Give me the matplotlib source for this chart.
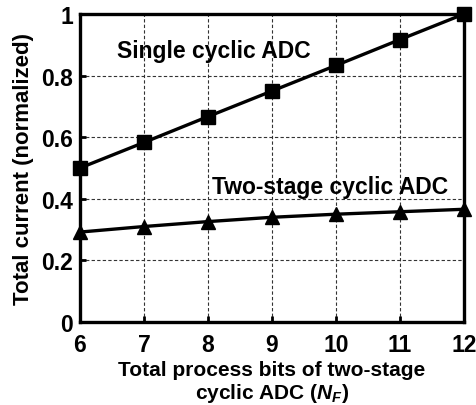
import matplotlib
matplotlib.use("Agg")
import matplotlib.pyplot as plt

bits = [6, 7, 8, 9, 10, 11, 12]
single = [0.5, 0.583, 0.667, 0.75, 0.833, 0.917, 1.0]
two_stage = [0.292, 0.31, 0.326, 0.34, 0.35, 0.358, 0.366]
yticks = [0, 0.2, 0.4, 0.6, 0.8, 1]
ytick_labels = ["0", "0.2", "0.4", "0.6", "0.8", "1"]

plt.rcParams['font.family'] = ['Liberation Sans', 'DejaVu Sans']
plt.rcParams['font.weight'] = 'bold'
plt.rcParams['mathtext.fontset'] = 'custom'
plt.rcParams['mathtext.bfit'] = 'Liberation Sans:bold:italic'
plt.rcParams['mathtext.it'] = 'Liberation Sans:bold:italic'

fig = plt.figure(figsize=(4.76, 4.06), dpi=100)
ax = fig.add_axes([80/476, 1-323/406, 384/476, 308/406])

ax.plot(bits, single, color='black', lw=2.4, marker='s', markersize=10, clip_on=False, zorder=3)
ax.plot(bits, two_stage, color='black', lw=2.4, marker='^', markersize=10, clip_on=False, zorder=3)

ax.set_xlim(6, 12)
ax.set_ylim(0, 1)
ax.set_xticks(bits)
ax.set_yticks(yticks)
ax.set_yticklabels(ytick_labels)
ax.grid(True, color='#333333', linestyle=(0, (3, 2)), lw=0.8)
for s in ax.spines.values():
    s.set_linewidth(2.4)
ax.tick_params(direction='in', length=4, width=2, labelsize=16.5)
ax.tick_params(axis='x', pad=8)
ax.tick_params(axis='y', pad=5)
for lab in ax.get_xticklabels() + ax.get_yticklabels():
    lab.set_fontweight('bold')

ax.text(6.58, 0.88, "Single cyclic ADC", fontsize=16.5, fontweight='bold', va='center', ha='left')
ax.text(8.06, 0.44, "Two-stage cyclic ADC", fontsize=16.5, fontweight='bold', va='center', ha='left')

ax.set_ylabel("Total current (normalized)", fontsize=16, fontweight='bold', labelpad=5)
ax.set_xlabel("Total process bits of two-stage\ncyclic ADC ($\\mathit{N_F}$)", fontsize=15, fontweight='bold', labelpad=3, linespacing=1.1)

fig.savefig("out.png", dpi=100)
